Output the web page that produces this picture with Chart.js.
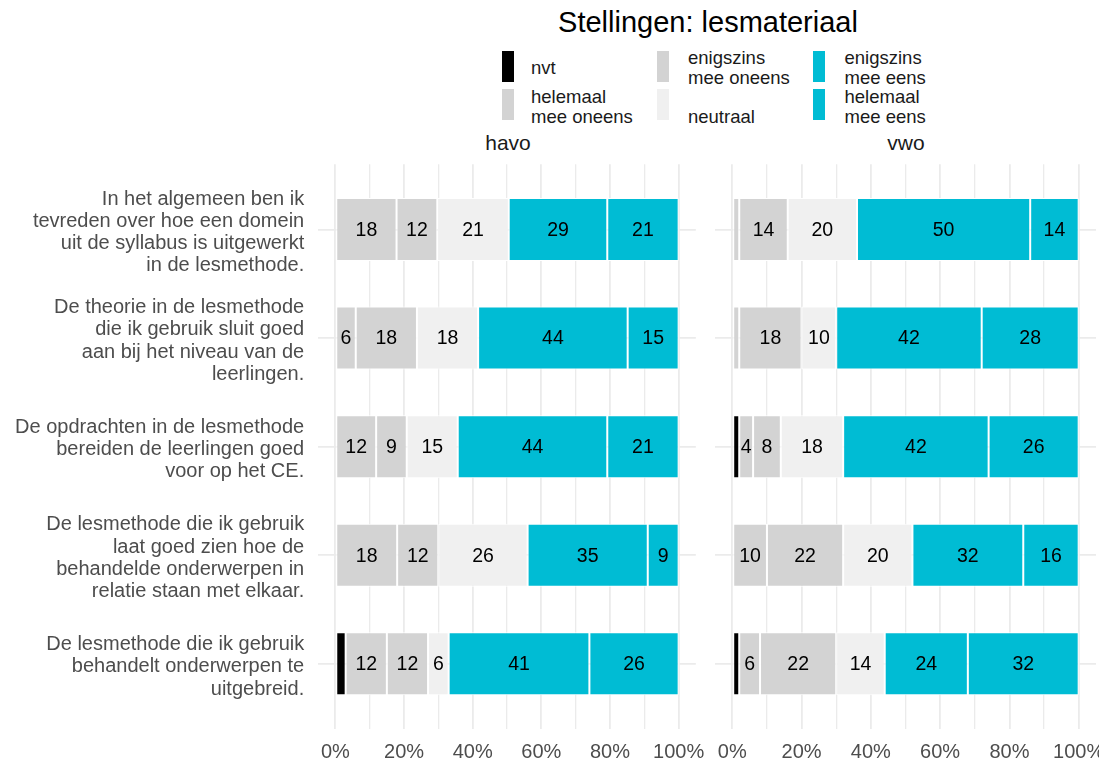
<!DOCTYPE html>
<html>
<head>
<meta charset="utf-8">
<script src="https://cdn.jsdelivr.net/npm/chart.js@4"></script>
<style>
  body { margin: 0; background: #fff; overflow: hidden; font-family: "Liberation Sans", Arial, sans-serif; }
  #wrap { position: relative; width: 1099px; height: 760px; overflow: hidden; }
  canvas { position: absolute; top: 0; }
  .txt { position: absolute; white-space: nowrap; }
  .key { position: absolute; width: 12px; height: 31px; }
  .lab { position: absolute; height: 40px; display: flex; flex-direction: column; font-size: 18.5px; line-height: 20px; color: #1a1a1a; }
</style>
</head>
<body>
<div id="wrap">
  <div class="txt" style="left:408px;width:600px;top:5px;text-align:center;font-size:29px;line-height:34px;color:#000">Stellingen: lesmateriaal</div>
  <div class="txt" style="left:408px;width:200px;top:130px;text-align:center;font-size:21px;line-height:26px;color:#1a1a1a">havo</div>
  <div class="txt" style="left:806px;width:200px;top:130px;text-align:center;font-size:21px;line-height:26px;color:#1a1a1a">vwo</div>
  <div id="legend"></div>
  <canvas id="havoChart" width="716" height="760" style="left:0"></canvas>
  <canvas id="vwoChart" width="424" height="760" style="left:700px"></canvas>
</div>
<script>
// ===== DATA =====
const statements = [
  ["In het algemeen ben ik", "tevreden over hoe een domein", "uit de syllabus is uitgewerkt", "in de lesmethode."],
  ["De theorie in de lesmethode", "die ik gebruik sluit goed", "aan bij het niveau van de", "leerlingen."],
  ["De opdrachten in de lesmethode", "bereiden de leerlingen goed", "voor op het CE."],
  ["De lesmethode die ik gebruik", "laat goed zien hoe de", "behandelde onderwerpen in", "relatie staan met elkaar."],
  ["De lesmethode die ik gebruik", "behandelt onderwerpen te", "uitgebreid."]
];
const answers = ["nvt", "helemaal mee oneens", "enigszins mee oneens", "neutraal", "enigszins mee eens", "helemaal mee eens"];
const answerColors = ["#000000", "#d3d3d3", "#d3d3d3", "#f0f0f0", "#00bcd4", "#00bcd4"];
const xTicks = [0, 20, 40, 60, 80, 100];
const xGrid = [0, 10, 20, 30, 40, 50, 60, 70, 80, 90, 100];

// percentages per answer, one value per statement
const havoNvt             = [0, 0, 0, 0, 3];
const havoHelemaalOneens  = [18, 6, 12, 18, 12];
const havoEnigszinsOneens = [12, 18, 9, 12, 12];
const havoNeutraal        = [21, 18, 15, 26, 6];
const havoEnigszinsEens   = [29, 44, 44, 35, 41];
const havoHelemaalEens    = [21, 15, 21, 9, 26];

const vwoNvt              = [0, 0, 2, 0, 2];
const vwoHelemaalOneens   = [2, 2, 4, 10, 6];
const vwoEnigszinsOneens  = [14, 18, 8, 22, 22];
const vwoNeutraal         = [20, 10, 18, 20, 14];
const vwoEnigszinsEens    = [50, 42, 42, 32, 24];
const vwoHelemaalEens     = [14, 28, 26, 16, 32];

const havoRows = [havoNvt, havoHelemaalOneens, havoEnigszinsOneens, havoNeutraal, havoEnigszinsEens, havoHelemaalEens];
const vwoRows = [vwoNvt, vwoHelemaalOneens, vwoEnigszinsOneens, vwoNeutraal, vwoEnigszinsEens, vwoHelemaalEens];

// ===== LEGEND =====
const keyX = [502, 657, 813];
const textX = [531, 688, 844.5];
const legend = document.getElementById("legend");
answers.forEach((name, k) => {
  const col = Math.floor(k / 2), row = k % 2;
  const key = document.createElement("div");
  key.className = "key";
  key.style.left = keyX[col] + "px";
  key.style.top = (row ? 88.5 : 51) + "px";
  key.style.background = answerColors[k];
  legend.appendChild(key);
  const lab = document.createElement("div");
  lab.className = "lab";
  lab.style.left = textX[col] + "px";
  lab.style.top = (row ? 86.7 : 48.3) + "px";
  lab.style.justifyContent = row ? "flex-end" : "center";
  lab.innerHTML = name.replace(" mee ", "<br>mee ");
  legend.appendChild(lab);
});

// ===== CHARTS =====
Chart.defaults.font.family = '"Liberation Sans", Arial, sans-serif';

const segmentLabels = {
  id: "segmentLabels",
  afterDatasetsDraw(chart) {
    const ctx = chart.ctx;
    ctx.save();
    ctx.font = '19.5px "Liberation Sans", Arial, sans-serif';
    ctx.fillStyle = "#000";
    ctx.textAlign = "center";
    ctx.textBaseline = "middle";
    chart.data.datasets.forEach((ds, k) => {
      chart.getDatasetMeta(k).data.forEach((bar, j) => {
        const n = ds.data[j].n;
        if (n < 4) return;
        ctx.fillText(n, (bar.x + bar.base) / 2, bar.y + 1);
      });
    });
    ctx.restore();
  }
};

function makeDatasets(rows) {
  const totals = statements.map((_, i) => rows.reduce((s, r) => s + r[i], 0));
  return answers.map((name, k) => ({
    label: name,
    backgroundColor: answerColors[k],
    data: rows[k]
      .map((v, i) => ({ x: v / totals[i] * 100, y: i + 1, n: v }))
      .filter(d => d.n > 0)
  }));
}

function panelOptions(showLabels, yWidth, padRight) {
  return {
    indexAxis: "y",
    responsive: false,
    animation: false,
    layout: { padding: { top: 164.3, bottom: 0, left: 0, right: padRight } },
    plugins: { legend: { display: false }, tooltip: { enabled: false } },
    datasets: {
      bar: { barPercentage: 0.58, categoryPercentage: 1, borderColor: "#fff", borderWidth: 1, borderSkipped: false }
    },
    scales: {
      x: {
        type: "linear", stacked: true, min: -5, max: 105,
        afterBuildTicks: s => { s.ticks = xGrid.map(v => ({ value: v })); },
        afterFit: s => { s.height = 31; },
        grid: {
          color: "#ebebeb", drawTicks: false,
          lineWidth: c => xTicks.includes(c.tick.value) ? 1.8 : 1.3
        },
        border: { display: false },
        ticks: {
          padding: 11, color: "#4d4d4d", font: { size: 20 }, autoSkip: false, maxRotation: 0,
          callback: v => xTicks.includes(v) ? v + "%" : ""
        }
      },
      y: {
        type: "linear", stacked: true, reverse: true, min: 0.4, max: 5.6, offset: false,
        afterBuildTicks: s => { s.ticks = statements.map((_, i) => ({ value: i + 1 })); },
        afterFit: s => { s.width = yWidth; s.paddingTop = 0; s.paddingBottom = 0; },
        grid: { color: "#ebebeb", lineWidth: 1.8, drawTicks: false, offset: false },
        border: { display: false },
        ticks: {
          display: showLabels, padding: 14, labelOffset: 3, color: "#4d4d4d", font: { size: 20, lineHeight: 1.11 },
          callback: v => statements[Math.round(v) - 1]
        }
      }
    }
  };
}

new Chart(document.getElementById("havoChart"), {
  type: "bar",
  data: { datasets: makeDatasets(havoRows) },
  options: panelOptions(true, 318.2, 17),
  plugins: [segmentLabels]
});

new Chart(document.getElementById("vwoChart"), {
  type: "bar",
  data: { datasets: makeDatasets(vwoRows) },
  options: panelOptions(false, 15, 28),
  plugins: [segmentLabels]
});
</script>
</body>
</html>
